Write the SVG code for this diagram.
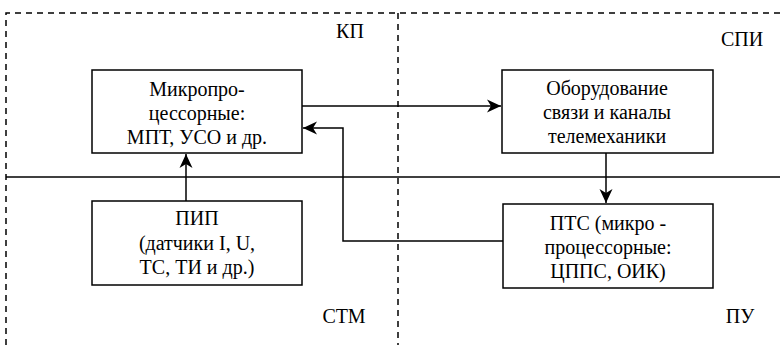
<svg xmlns="http://www.w3.org/2000/svg" width="780" height="345" viewBox="0 0 780 345">
<style>
.bg{fill:#fff}
.zone{fill:none;stroke:#000;stroke-width:1.5;stroke-dasharray:6,5}
.sep{fill:none;stroke:#000;stroke-width:1.5}
.box{fill:#fff;stroke:#000;stroke-width:1.5}
.ln{fill:none;stroke:#000;stroke-width:1.5;marker-end:url(#ah)}
text{font-family:'Liberation Serif','Liberation Sans',Arial,sans-serif;font-size:20px;fill:#000;text-anchor:middle}
</style>
<defs>
<marker id="ah" viewBox="-14 -7 15 14" refX="0" refY="0" markerWidth="15" markerHeight="14" markerUnits="userSpaceOnUse" orient="auto">
<path d="M0,0 L-14,-6.5 L-10,0 L-14,6.5 Z" fill="#000"/>
</marker>
</defs>
<rect class="bg" x="0" y="0" width="780" height="345"/>
<g id="zones">
<path class="zone" d="M6,345 V13 H780"/>
<path class="zone" d="M398,13 V345"/>
<path class="sep" d="M6,177 H780"/>
<text x="350" y="38">КП</text>
<text x="742" y="46">СПИ</text>
<text x="344" y="323">СТМ</text>
<text x="740" y="323">ПУ</text>
</g>
<g id="connectors">
<path class="ln" d="M302,106 H501"/>
<path class="ln" d="M503,241 H343 V128 H303"/>
<path class="ln" d="M186,201 V154"/>
<path class="ln" d="M606,153 V203"/>
</g>
<g id="n1">
<rect class="box" x="92" y="70" width="210" height="83"/>
<text x="197" y="96">Микропро-</text>
<text x="197" y="120">цессорные:</text>
<text x="197" y="144">МПТ, УСО и др.</text>
</g>
<g id="n2">
<rect class="box" x="502" y="70" width="211" height="83"/>
<text x="607" y="95">Оборудование</text>
<text x="607" y="119">связи и каналы</text>
<text x="607" y="143">телемеханики</text>
</g>
<g id="n3">
<rect class="box" x="92" y="201" width="210" height="84"/>
<text x="197" y="225">ПИП</text>
<text x="197" y="250">(датчики I, U,</text>
<text x="197" y="274">ТС, ТИ и др.)</text>
</g>
<g id="n4">
<rect class="box" x="503" y="204" width="210" height="84"/>
<text x="608" y="230">ПТС (микро -</text>
<text x="608" y="254">процессорные:</text>
<text x="608" y="278">ЦППС, ОИК)</text>
</g>
</svg>
